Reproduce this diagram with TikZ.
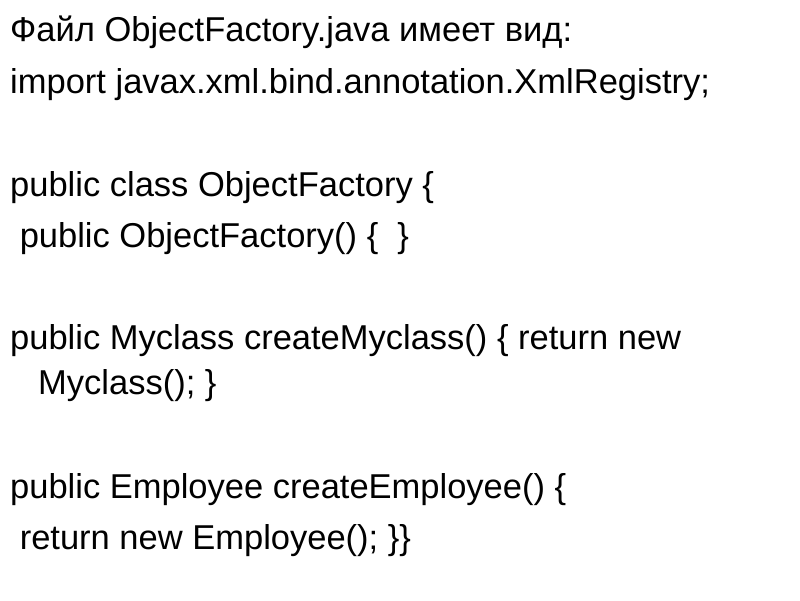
\documentclass[tikz,border=0pt]{standalone}
\usepackage{fontspec}
\setmainfont{Liberation Sans}
\begin{document}
\begin{tikzpicture}[x=1pt,y=1pt,txt/.style={anchor=base west,inner sep=0pt,font=\fontsize{34.5}{38}\selectfont}]
\useasboundingbox (0,0) rectangle (800,600);
\node[txt] (l1) at (10,558) {Файл ObjectFactory.java имеет вид:};
\node[txt] (l2) at (10,506) {import javax.xml.bind.annotation.XmlRegistry;};
\node[txt] (l3) at (10,403) {public class ObjectFactory \{};
\node[txt] (l4) at (10,352) {\ public ObjectFactory() \{\ \ \}};
\node[txt] (l5) at (10,250) {public Myclass createMyclass() \{ return new};
\node[txt] (l6) at (38,205) {Myclass(); \}};
\node[txt] (l7) at (10,102) {public Employee createEmployee() \{};
\node[txt] (l8) at (10,51) {\ return new Employee(); \}\}};
\end{tikzpicture}
\end{document}
